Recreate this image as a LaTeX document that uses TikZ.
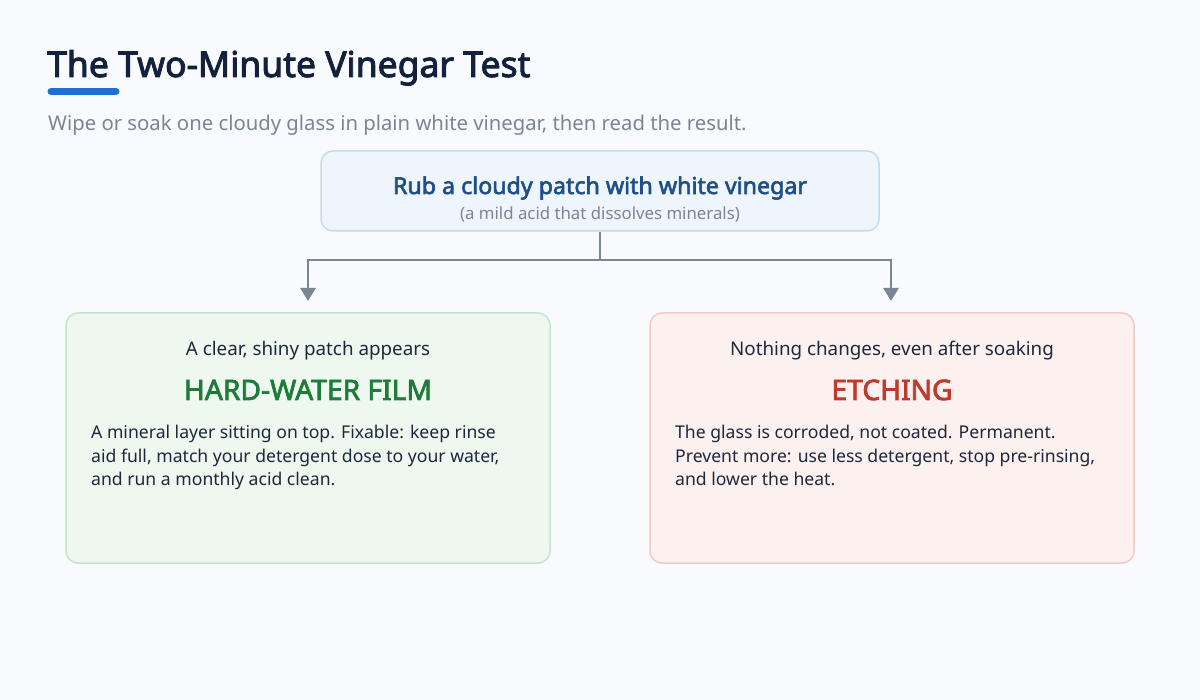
\documentclass[tikz,border=0pt]{standalone}
\usepackage{fontspec}
\setmainfont{Noto Sans}[AutoFakeBold=2.6]
\usetikzlibrary{arrows.meta}
\definecolor{bg}{HTML}{F8FAFD}
\definecolor{titlec}{HTML}{13213D}
\definecolor{accent}{HTML}{1F6FD6}
\definecolor{subc}{HTML}{7B8593}
\definecolor{topfill}{HTML}{EEF5FB}
\definecolor{topdraw}{HTML}{C8DBEC}
\definecolor{topc}{HTML}{1E4F88}
\definecolor{linec}{HTML}{7A8694}
\definecolor{gfill}{HTML}{EEF8EF}
\definecolor{gdraw}{HTML}{C6E4CB}
\definecolor{gtext}{HTML}{1E7B3B}
\definecolor{rfill}{HTML}{FDF1EF}
\definecolor{rdraw}{HTML}{F0CAC5}
\definecolor{rtext}{HTML}{BF392C}
\definecolor{bodyc}{HTML}{1C283D}
\tikzset{
  x=1pt, y=-1pt,
  card/.style={draw, line width=1.5pt, rounded corners=12pt, inner sep=0pt},
  conn/.style={draw=linec, line width=2.8pt},
  arr/.style={conn, -{Triangle[width=15pt,length=13pt]}},
  lead/.style={font=\fontsize{18.8}{22}\selectfont, text=bodyc, anchor=base, inner sep=0pt},
  verdict/.style={font=\fontsize{28.2}{32}\selectfont\bfseries, anchor=base, inner sep=0pt},
  body/.style={font=\fontsize{17.6}{23}\selectfont, text=bodyc, anchor=base west, inner sep=0pt},
}
\begin{document}
\begin{tikzpicture}
\fill[bg] (0,0) rectangle (1200,700);
\useasboundingbox (0,0) rectangle (1200,700);
% title
\node[anchor=base west, inner sep=0pt, text=titlec, font=\fontsize{35.5}{40}\selectfont\bfseries] (title) at (47,77) {The Two-Minute Vinegar Test};
\draw[accent, line width=7pt, line cap=round] (51,91.5) -- (116,91.5);
\node[anchor=base west, inner sep=0pt, text=subc, font=\fontsize{20.3}{24}\selectfont] (sub) at (48,130.5) {Wipe or soak one cloudy glass in plain white vinegar, then read the result.};
% top box
\node[card, draw=topdraw, fill=topfill, minimum width=558pt, minimum height=80pt] (top) at (600,191) {};
\node[anchor=base, text=topc, font=\fontsize{23.2}{26}\selectfont\bfseries, inner sep=0pt] (toptxt) at (600,194) {Rub a cloudy patch with white vinegar};
\node[anchor=base, text=subc, font=\fontsize{16.8}{20}\selectfont, inner sep=0pt] (topsub) at (600,220) {(a mild acid that dissolves minerals)};
% cards
\node[card, draw=gdraw, fill=gfill, minimum width=484pt, minimum height=250pt] (left) at (308,438) {};
\node[card, draw=rdraw, fill=rfill, minimum width=484pt, minimum height=250pt] (right) at (892,438) {};
% connectors
\coordinate (split) at (600,260);
\coordinate (lt) at (308,301);
\coordinate (rt) at (891,301);
\draw[conn] (top.south) -- (split);
\draw[arr] (split) -| (lt);
\draw[arr] (split) -| (rt);
% left content
\node[lead] (l1) at (308,356) {A clear, shiny patch appears};
\node[verdict, text=gtext] (l2) at (308,400) {HARD-WATER FILM};
\node[body] (l3a) at (91,439) {A mineral layer sitting on top. Fixable: keep rinse};
\node[body] (l3b) at (91,462.3) {aid full, match your detergent dose to your water,};
\node[body] (l3c) at (91,485.6) {and run a monthly acid clean.};
% right content
\node[lead] (r1) at (892,356) {Nothing changes, even after soaking};
\node[verdict, text=rtext] (r2) at (892,400) {ETCHING};
\node[body] (r3a) at (675,439) {The glass is corroded, not coated. Permanent.};
\node[body] (r3b) at (675,462.3) {Prevent more: use less detergent, stop pre-rinsing,};
\node[body] (r3c) at (675,485.6) {and lower the heat.};
\end{tikzpicture}
\end{document}
